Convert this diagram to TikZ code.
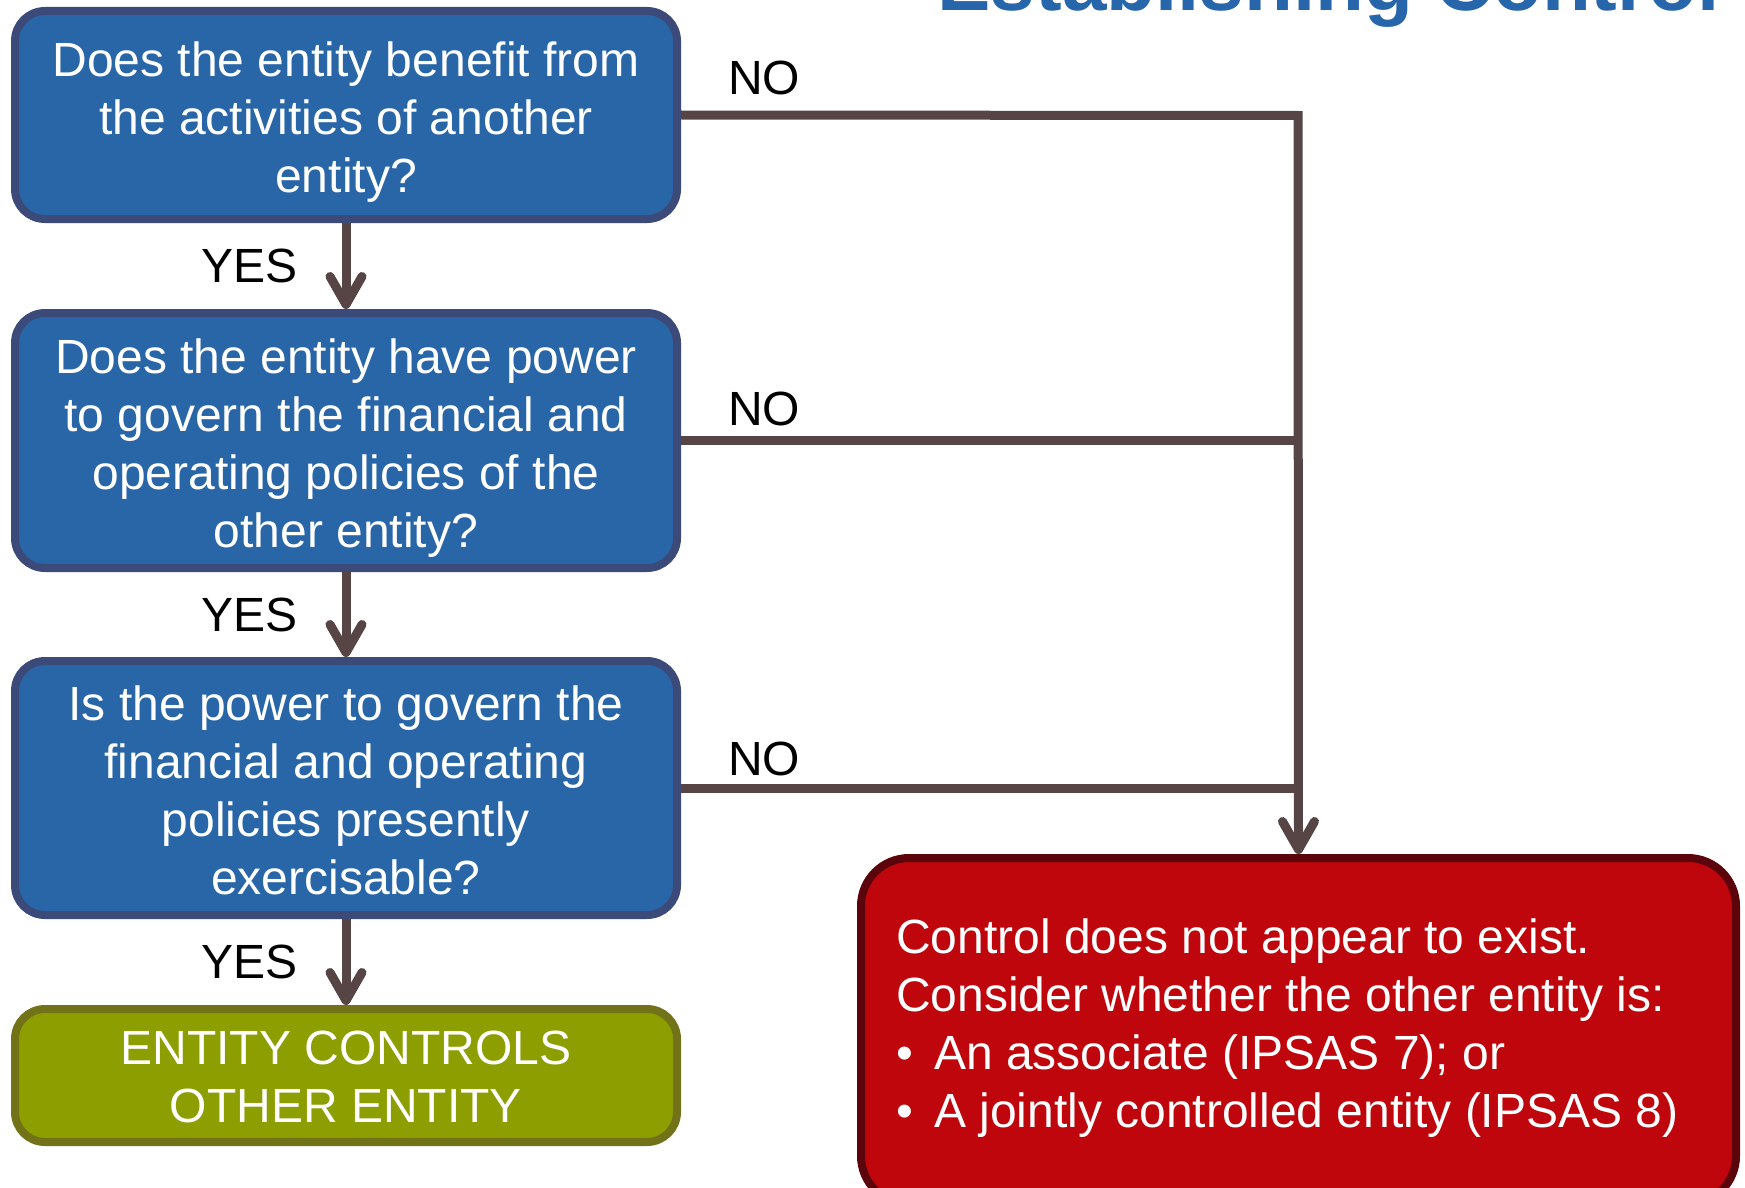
\documentclass[tikz,border=0pt]{standalone}
\usepackage{fontspec}
\setmainfont{Liberation Sans}
\usetikzlibrary{arrows.meta,calc}
\definecolor{boxblue}{HTML}{2966A8}
\definecolor{boxblueborder}{HTML}{3B4A78}
\definecolor{conncol}{HTML}{574545}
\definecolor{greenfill}{HTML}{8C9E00}
\definecolor{greenborder}{HTML}{727218}
\definecolor{redfill}{HTML}{BE060C}
\definecolor{redborder}{HTML}{5C040C}
\definecolor{titleblue}{HTML}{2766AA}
\begin{document}
\begin{tikzpicture}[x=1pt,y=-1pt,
  txt/.style={font=\fontsize{48}{58}\selectfont},
  qbox/.style={draw=boxblueborder, fill=boxblue, line width=8pt,
    rounded corners=30pt, minimum width=662pt, inner sep=0pt},
  gbox/.style={draw=greenborder, fill=greenfill, line width=8pt,
    rounded corners=30pt, minimum width=662pt, inner sep=0pt},
  rbox/.style={draw=redborder, fill=redfill, line width=8pt,
    rounded corners=48pt, minimum width=875pt, minimum height=346pt, inner sep=0pt},
  btext/.style={txt, text=white, align=center, inner sep=0pt},
  conn/.style={draw=conncol, line width=9pt},
  arr/.style={conn, -{Straight Barb[length=28pt,width=32pt,round]}},
  lbl/.style={txt, text=black, inner sep=0pt}
]
\useasboundingbox (0,0) rectangle (1745,1188);

% title (cut off at top)
\node[anchor=base east, inner sep=0pt, text=titleblue,
  font=\fontsize{80}{90}\selectfont\bfseries] (title) at (1720,11) {Establishing Control};

% boxes
\node[qbox, minimum height=208pt] (q1) at (346,115) {};
\node[btext] (q1t) at ($(q1.center)+(0,7.5)$)
  {Does the entity benefit from\\the activities of another\\entity?};
\node[qbox, minimum height=255pt] (q2) at (346,440.5) {};
\node[btext] (q2t) at ($(q2.center)+(0,7.5)$)
  {Does the entity have power\\to govern the financial and\\operating policies of the\\other entity?};
\node[qbox, minimum height=254pt] (q3) at (346,788) {};
\node[btext] (q3t) at ($(q3.center)+(0,2.5)$)
  {Is the power to govern the\\financial and operating\\policies presently\\exercisable?};
\node[gbox, minimum height=133pt] (yes) at (346,1075.5) {};
\node[btext] (yest) at ($(yes.center)+(0,1)$)
  {ENTITY CONTROLS\\OTHER ENTITY};
\node[rbox] (no) at (1298.5,1031) {};
\node[txt, text=white, align=left, anchor=west, inner sep=0pt] (notext) at (896,1028.5)
  {Control does not appear to exist.\\
   Consider whether the other entity is:\\
   \makebox[38pt][l]{\textbullet}An associate (IPSAS 7); or\\
   \makebox[38pt][l]{\textbullet}A jointly controlled entity (IPSAS 8)};

% junction
\coordinate (j1) at (1298,115.5);

% connectors
\draw[arr] (q1.south) -- node[lbl, midway, left=44pt] {YES} (q2.north);
\draw[arr] (q2.south) -- node[lbl, midway, left=44pt] {YES} (q3.north);
\draw[arr] (q3.south) -- node[lbl, midway, left=44pt] {YES} (yes.north);

\draw[conn] (q2.east) -- (q2.east -| j1);
\draw[conn] (q3.east) -- (q3.east -| j1);
\draw[arr] (q1.east) -- (j1) -- (no.north);

% NO labels
\node[lbl, anchor=base west] (no1) at ($(q1.east)+(47,-20.5)$) {NO};
\node[lbl, anchor=base west] (no2) at ($(q2.east)+(47,-15.5)$) {NO};
\node[lbl, anchor=base west] (no3) at ($(q3.east)+(47,-13)$) {NO};
\end{tikzpicture}
\end{document}
